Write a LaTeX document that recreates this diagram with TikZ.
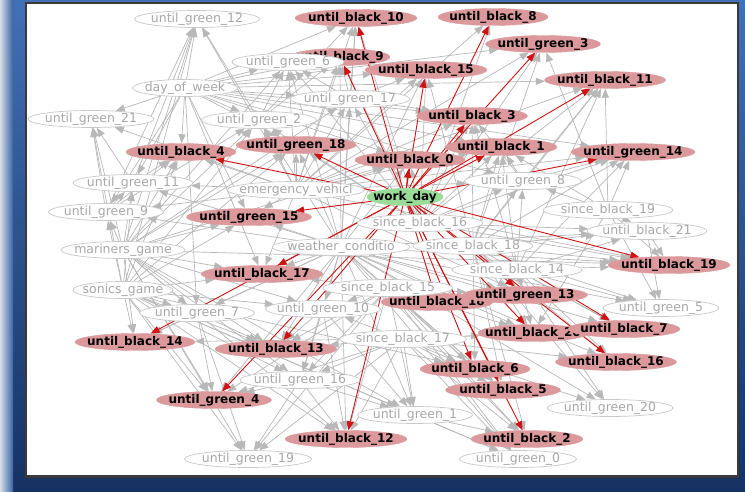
\documentclass[tikz,border=0pt]{standalone}
\usepackage{fontspec}
\setmainfont{DejaVu Sans}
\usetikzlibrary{shapes.geometric,arrows.meta}
\pgfdeclarelayer{bg}
\pgfdeclarelayer{edges}
\pgfsetlayers{bg,edges,main}
\definecolor{pinknode}{RGB}{219,153,156}
\definecolor{greennode}{RGB}{152,220,152}
\definecolor{graybd}{RGB}{200,200,200}
\definecolor{graytxt}{RGB}{168,168,168}
\definecolor{grayedge}{RGB}{184,184,184}
\definecolor{rededge}{RGB}{208,18,18}
\definecolor{winhi}{RGB}{66,112,182}
\definecolor{winlo}{RGB}{22,50,98}
\definecolor{winedge}{RGB}{215,222,232}
\definecolor{panelrim}{RGB}{58,58,58}
% label text sits centred in the ellipse without changing its size
\newcommand\lbl[1]{\smash{\makebox[0pt]{\raisebox{-0.3em}{#1}}}}
\tikzset{
  basenode/.style={ellipse, inner sep=0pt, minimum height=17pt},
  gnode/.style={basenode, draw=graybd, line width=0.7pt, fill=white, text=graytxt,
    font=\fontsize{12.5}{12.5}\selectfont},
  pnode/.style={basenode, draw=pinknode, fill=pinknode, text=black,
    font=\bfseries\fontsize{12}{12}\selectfont},
  wnode/.style={basenode, draw=greennode, fill=greennode, text=black,
    font=\bfseries\fontsize{12}{12}\selectfont},
  gedge/.style={draw=grayedge, line width=0.7pt, -{Triangle[length=9pt,width=7pt]}},
  redge/.style={draw=rededge, line width=0.9pt, -{Triangle[length=9pt,width=7pt]}}
}
\begin{document}
\begin{tikzpicture}[x=1pt,y=-1pt]
\useasboundingbox (0,0) rectangle (745,492);

% window frame and canvas
\begin{pgfonlayer}{bg}
  \shade[top color=winhi, bottom color=winlo] (0,0) rectangle (745,492);
  \shade[left color=winedge, right color=winhi!80!winlo] (0,0) rectangle (13,492);
  \fill[panelrim] (25,2) rectangle (739,478);
  \fill[white] (27,4) rectangle (737,475);
\end{pgfonlayer}

% nodes lying underneath their neighbours
\node[pnode, minimum width=100pt] (b9)  at (340,57)  {\lbl{until\_black\_9}};
\node[pnode, minimum width=112pt] (b18) at (437,302) {\lbl{until\_black\_18}};
\node[pnode, minimum width=110pt] (b20) at (533,333) {\lbl{until\_black\_20}};

% grey nodes
\node[gnode, minimum width=125pt] (g12) at (197,19)  {\lbl{until\_green\_12}};
\node[gnode, minimum width=112pt] (g6)  at (288,62)  {\lbl{until\_green\_6}};
\node[gnode, minimum width=105pt] (dow) at (185,88)  {\lbl{day\_of\_week}};
\node[gnode, minimum width=120pt] (g17) at (350,99)  {\lbl{until\_green\_17}};
\node[gnode, minimum width=126pt] (g21) at (91,119)  {\lbl{until\_green\_21}};
\node[gnode, minimum width=115pt] (g2)  at (259,120) {\lbl{until\_green\_2}};
\node[gnode, minimum width=120pt] (g11) at (133,183) {\lbl{until\_green\_11}};
\node[gnode, minimum width=137pt] (ev)  at (296,190) {\lbl{emergency\_vehicl}};
\node[gnode, minimum width=117pt] (g8)  at (523,181) {\lbl{until\_green\_8}};
\node[gnode, minimum width=115pt] (g9)  at (106,212) {\lbl{until\_green\_9}};
\node[gnode, minimum width=130pt] (s19) at (608,210) {\lbl{since\_black\_19}};
\node[gnode, minimum width=126pt] (s16) at (420,223) {\lbl{since\_black\_16}};
\node[gnode, minimum width=120pt] (b21) at (647,231) {\lbl{until\_black\_21}};
\node[gnode, minimum width=124pt] (mg)  at (123,250) {\lbl{mariners\_game}};
\node[gnode, minimum width=138pt] (wc)  at (341,247) {\lbl{weather\_conditio}};
\node[gnode, minimum width=120pt] (s18) at (473,246) {\lbl{since\_black\_18}};
\node[gnode, minimum width=130pt] (s14) at (517,270) {\lbl{since\_black\_14}};
\node[gnode, minimum width=100pt] (sg)  at (123,290) {\lbl{sonics\_game}};
\node[gnode, minimum width=130pt] (s15) at (388,288) {\lbl{since\_black\_15}};
\node[gnode, minimum width=116pt] (g5)  at (661,308) {\lbl{until\_green\_5}};
\node[gnode, minimum width=115pt] (g7)  at (197,313) {\lbl{until\_green\_7}};
\node[gnode, minimum width=115pt] (g10) at (323,309) {\lbl{until\_green\_10}};
\node[gnode, minimum width=127pt] (s17) at (403,339) {\lbl{since\_black\_17}};
\node[gnode, minimum width=120pt] (g16) at (300,380) {\lbl{until\_green\_16}};
\node[gnode, minimum width=126pt] (g20) at (610,408) {\lbl{until\_green\_20}};
\node[gnode, minimum width=115pt] (g1)  at (415,415) {\lbl{until\_green\_1}};
\node[gnode, minimum width=127pt] (g19) at (248,459) {\lbl{until\_green\_19}};
\node[gnode, minimum width=117pt] (g0)  at (518,459) {\lbl{until\_green\_0}};

% highlighted nodes
\node[pnode, minimum width=122pt] (b10) at (356,18)  {\lbl{until\_black\_10}};
\node[pnode, minimum width=110pt] (b8)  at (493,17)  {\lbl{until\_black\_8}};
\node[pnode, minimum width=115pt] (g3)  at (543,44)  {\lbl{until\_green\_3}};
\node[pnode, minimum width=122pt] (b15) at (426,70)  {\lbl{until\_black\_15}};
\node[pnode, minimum width=121pt] (b11) at (605,80)  {\lbl{until\_black\_11}};
\node[pnode, minimum width=111pt] (b3)  at (472,116) {\lbl{until\_black\_3}};
\node[pnode, minimum width=110pt] (b4)  at (181,152) {\lbl{until\_black\_4}};
\node[pnode, minimum width=120pt] (g18) at (296,145) {\lbl{until\_green\_18}};
\node[pnode, minimum width=110pt] (b0)  at (410,160) {\lbl{until\_black\_0}};
\node[pnode, minimum width=112pt] (b1)  at (501,147) {\lbl{until\_black\_1}};
\node[pnode, minimum width=124pt] (g14) at (633,152) {\lbl{until\_green\_14}};
\node[pnode, minimum width=125pt] (g15) at (249,217) {\lbl{until\_green\_15}};
\node[pnode, minimum width=122pt] (b17) at (262,274) {\lbl{until\_black\_17}};
\node[pnode, minimum width=122pt] (b19) at (669,265) {\lbl{until\_black\_19}};
\node[pnode, minimum width=125pt] (g13) at (525,295) {\lbl{until\_green\_13}};
\node[pnode, minimum width=112pt] (b7)  at (624,329) {\lbl{until\_black\_7}};
\node[pnode, minimum width=120pt] (b14) at (135,342) {\lbl{until\_black\_14}};
\node[pnode, minimum width=122pt] (b13) at (276,349) {\lbl{until\_black\_13}};
\node[pnode, minimum width=121pt] (b16) at (616,362) {\lbl{until\_black\_16}};
\node[pnode, minimum width=110pt] (b6)  at (475,369) {\lbl{until\_black\_6}};
\node[pnode, minimum width=115pt] (b5)  at (503,390) {\lbl{until\_black\_5}};
\node[pnode, minimum width=115pt] (g4)  at (214,400) {\lbl{until\_green\_4}};
\node[pnode, minimum width=122pt] (b12) at (346,439) {\lbl{until\_black\_12}};
\node[pnode, minimum width=112pt] (b2)  at (527,439) {\lbl{until\_black\_2}};
\node[wnode, minimum width=76pt]  (wd)  at (405,197) {\lbl{work\_day}};

% connectors
\begin{pgfonlayer}{edges}
  \foreach \t in {g12,g21,b4,g11,g9,g2,g6,g17,g18,b10,b15,b3,b0,g15,g8,b11,g14,b17,g7,b9,g3,b1}
    \draw[gedge] (dow) -- (\t);
  \foreach \t in {g12,g21,g11,g9,b4,g15,b17,b14,g7,g4,g16,b13,g10,g2,g18,b12,g19,g1,b19,g6,g17,b0}
    \draw[gedge] (mg) -- (\t);
  \foreach \t in {g12,g21,b14,g7,g4,g19,g16,b13,b12,g10,b17,g15,g11,g9,b4,g1,b6,g0,g2,g18}
    \draw[gedge] (sg) -- (\t);
  \foreach \t in {b10,b9,b15,g6,g17,g2,g12,b4,g18,b0,b3,b1,g3,b8,b11,g14,g8,b19,g15,b17,g13,g11,g9,g21}
    \draw[gedge] (ev) -- (\t);
  \foreach \t in {b10,b9,g6,g17,b15,g18,b0,g15,b17,g10,b13,g16,g4,b12,g1,b18,b6,b5,b2,g0,b14,g7,g13,b20,b7,b16,g20,b19,b21,g5,g9,g11,g2}
    \draw[gedge] (wc) -- (\t);
  \foreach \t in {b15,b3,b1,g8,b0,g17,g18,b9,b10,b8,g3,b11,g14,b19,b21,g2,g6}
    \draw[gedge] (s16) -- (\t);
  \foreach \t in {b1,g8,b3,b11,g14,b19,b21,g13,b20,b7,b16,g5,g20,b6,b5,b2,b15,g3}
    \draw[gedge] (s18) -- (\t);
  \foreach \t in {b19,b21,g5,b7,b16,g20,b20,g13,b11,g14,b1,g8,b3}
    \draw[gedge] (s14) -- (\t);
  \foreach \t in {b18,g10,b13,g16,g1,b12,b6,b5,b2,g0,g13,b20,g4,b17,g19}
    \draw[gedge] (s15) -- (\t);
  \foreach \t in {b13,g16,g1,b12,b6,b5,b2,g0,g19,g4,b14,g10,b20,b16,g20,b7}
    \draw[gedge] (s17) -- (\t);
  \foreach \t in {b21,b19,g5,g14,b11,g8,b1,b20,g3}
    \draw[gedge] (s19) -- (\t);
  \foreach \t in {g11,g21,b4,g12,g2}
    \draw[gedge] (g9) -- (\t);
  \foreach \t in {g21,b4,g12}
    \draw[gedge] (g11) -- (\t);
  \foreach \t in {b14,g4,g19,b13}
    \draw[gedge] (g7) -- (\t);
  \foreach \t in {b13,g16,b12,g1}
    \draw[gedge] (g10) -- (\t);
  \foreach \t in {g19,b12,g1,g4}
    \draw[gedge] (g16) -- (\t);
  \foreach \t in {g0,b2}
    \draw[gedge] (g1) -- (\t);
  \foreach \t in {b19,g5}
    \draw[gedge] (b21) -- (\t);
  \foreach \t in {b1,b11,g14,b3}
    \draw[gedge] (g8) -- (\t);
  \foreach \t in {b15,b10,b9,g6,b3}
    \draw[gedge] (g17) -- (\t);
  \foreach \t in {g6,g12,b9,b10}
    \draw[gedge] (g2) -- (\t);
  \foreach \t in {b10,b9,b15,b8,g3,b11,b3,b1,g14,b0,g18,b4,g15,b17,b14,b13,g4,b12,b18,b6,b5,b2,g13,b20,b7,b16,b19}
    \draw[redge] (wd) -- (\t);
\end{pgfonlayer}
\end{tikzpicture}
\end{document}
